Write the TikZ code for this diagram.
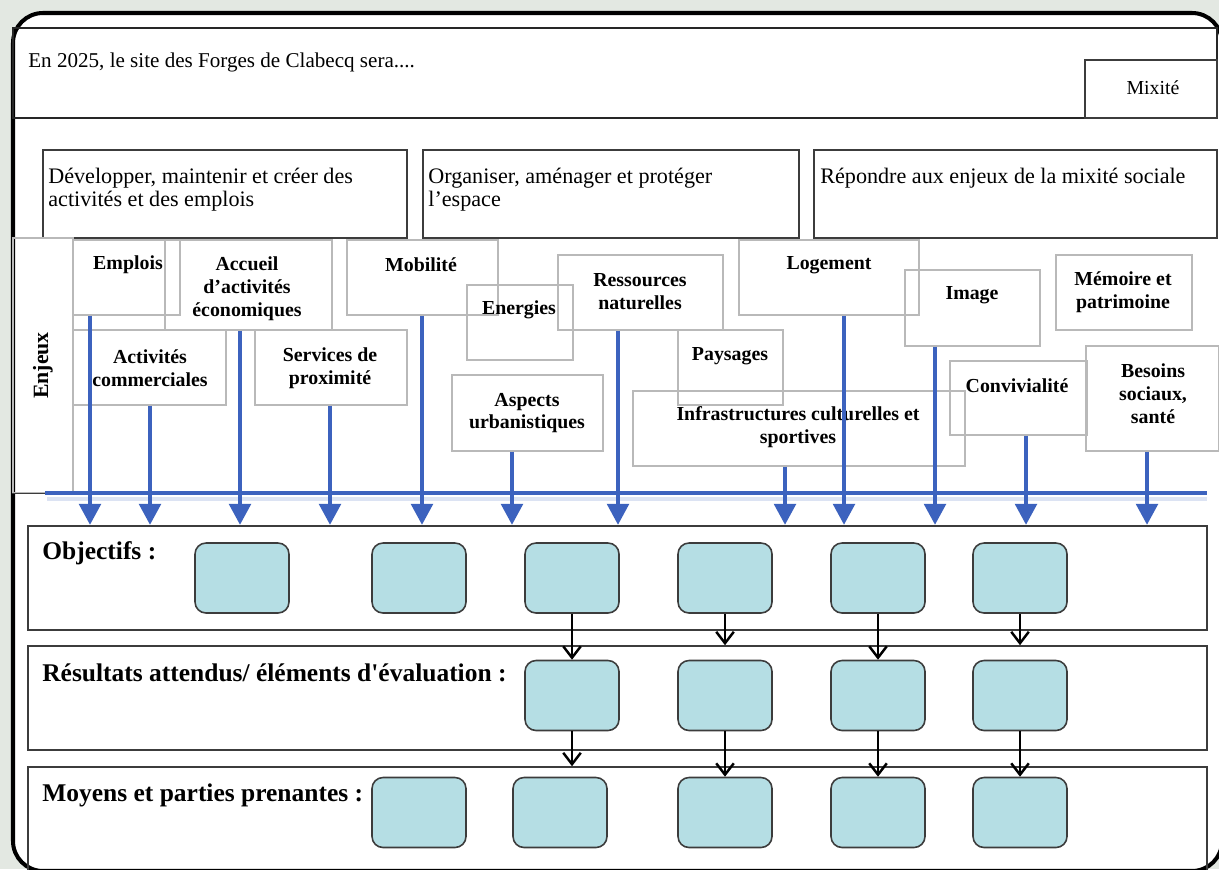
\documentclass[tikz,border=0pt]{standalone}
\usepackage{fontspec}
\setmainfont{Liberation Serif}
\usetikzlibrary{arrows.meta,fit}

\definecolor{bgcol}{RGB}{227,232,226}
\definecolor{enjblue}{RGB}{60,98,190}
\definecolor{objfill}{RGB}{181,222,228}
\definecolor{linegray}{RGB}{60,60,60}

\begin{document}
\begin{tikzpicture}[
    x=0.02cm, y=-0.02cm,
    frame/.style={draw=black, line width=2.3pt, rounded corners=0.6cm, fill=white},
    headbox/.style={draw=black!85, line width=1.1pt, inner sep=0pt},
    topbox/.style={draw=linegray, line width=0.8pt, inner sep=0pt},
    enjbox/.style={draw=gray!55, line width=0.6pt, inner sep=0pt},
    section/.style={draw=linegray, line width=0.9pt, inner sep=0pt},
    objbox/.style={draw=linegray, line width=0.9pt, fill=objfill, rounded corners=0.22cm, minimum width=1.88cm, minimum height=1.4cm},
    toptxt/.style={font=\fontsize{12.6}{12.8}\selectfont, align=left, inner sep=0pt},
    enjtxt/.style={font=\fontsize{11.3}{13}\selectfont\bfseries, align=center, inner sep=0pt},
    sectxt/.style={font=\fontsize{14.5}{16}\selectfont\bfseries, anchor=west, inner sep=0pt},
    enjarrow/.style={enjblue, line width=2.8pt, -{Triangle[width=12pt,length=12pt]}},
    flow/.style={black, line width=0.7pt, -{Straight Barb[length=6.5pt,width=10pt,line width=1.4pt]}}
]

% background and frame
\fill[bgcol] (0,0) rectangle (1219,869);
\useasboundingbox (0,0) rectangle (1219,869);
\draw[frame] (13,13) rectangle (1222,871);

% Header
\node[headbox, fit={(13,28) (1217,118)}] (header) {};
\node[toptxt, anchor=west, font=\fontsize{12}{12.8}\selectfont] (sera) at (28,62) {En 2025, le site des Forges de Clabecq sera....};
\node[topbox, fit={(1085,60) (1217,118)}] (mixite) {};
\node[toptxt, font=\fontsize{11.3}{12}\selectfont] (mixitet) at (1153,88) {Mixité};

% Axes
\node[topbox, fit={(43,150) (407,238)}] (axe1) {};
\node[toptxt, anchor=north west] (axe1t) at (48,168) {Développer, maintenir et créer des\\activités et des emplois};
\node[topbox, fit={(423,150) (799,238)}] (axe2) {};
\node[toptxt, anchor=north west] (axe2t) at (428,168) {Organiser, aménager et protéger\\l’espace};
\node[topbox, fit={(814,150) (1217,238)}] (axe3) {};
\node[toptxt, anchor=north west] (axe3t) at (820,168) {Répondre aux enjeux de la mixité sociale};

% Enjeux
\node[enjbox, fit={(13,238) (73,493)}] (enjcol) {};
\draw[linegray, line width=0.8pt] (enjcol.south west) -- (enjcol.south east);
\node[enjtxt, rotate=90, font=\fontsize{12.4}{13}\selectfont\bfseries] (enjeux) at (enjcol.center) {Enjeux};

\node[enjbox, fit={(73,240) (180,315)}] (emplois) {};
\node[enjtxt] (emploist) at (128,265) {Emplois};
\node[enjbox, fit={(165,240) (332,330)}] (accueil) {};
\begin{scope}
\clip (165,240) rectangle (332,330);
\node[enjtxt] (accueilt) at (247,289) {Accueil\\d’activités\\économiques};
\end{scope}
\node[enjbox, fit={(347,240) (498,315)}] (mobilite) {};
\node[enjtxt] (mobilitet) at (421,265) {Mobilité};
\node[enjbox, fit={(73,330) (226,405)}] (commerce) {};
\node[enjtxt] (commercet) at (150,368) {Activités\\commerciales};
\node[enjbox, fit={(255,330) (407,405)}] (services) {};
\node[enjtxt] (servicest) at (330,368) {Services de\\proximité};
\node[enjbox, fit={(467,285) (573,360)}] (energies) {};
\node[enjtxt] (energiest) at (519,310) {Energies};
\node[enjbox, fit={(558,255) (723,330)}] (ressources) {};
\node[enjtxt] (ressourcest) at (640,292) {Ressources\\naturelles};
\node[enjbox, fit={(452,375) (603,451)}] (aspects) {};
\node[enjtxt] (aspectst) at (527,413) {Aspects\\urbanistiques};
\node[enjbox, fit={(678,330) (783,405)}] (paysages) {};
\node[enjtxt] (paysagest) at (730,356) {Paysages};
\node[enjbox, fit={(633,391) (965,466)}] (infra) {};
\node[enjtxt] (infrat) at (798,427) {Infrastructures culturelles et\\sportives};
\node[enjbox, fit={(739,240) (919,315)}] (logement) {};
\node[enjtxt] (logementt) at (829,265) {Logement};
\node[enjbox, fit={(905,270) (1040,346)}] (image) {};
\node[enjtxt] (imaget) at (972,295) {Image};
\node[enjbox, fit={(1056,255) (1192,330)}] (memoire) {};
\node[enjtxt] (memoiret) at (1123,292) {Mémoire et\\patrimoine};
\node[enjbox, fit={(950,361) (1087,435)}] (convivialite) {};
\node[enjtxt] (convivialitet) at (1017,386) {Convivialité};
\node[enjbox, fit={(1086,346) (1219,451)}] (besoins) {};
\node[enjtxt] (besoinst) at (1153,394) {Besoins\\sociaux,\\santé};

% tips on the Objectifs row
\coordinate (t1) at (90,525);
\coordinate (t2) at (150,525);
\coordinate (t3) at (240,525);
\coordinate (t4) at (330,525);
\coordinate (t5) at (422,525);
\coordinate (t6) at (512,525);
\coordinate (t7) at (618,525);
\coordinate (t8) at (785,525);
\coordinate (t9) at (844,525);
\coordinate (t10) at (935,525);
\coordinate (t11) at (1026,525);
\coordinate (t12) at (1147,525);

\draw[enjblue!18, line width=2.5pt] (47,499) -- (1207,499);
\draw[enjarrow] (t1 |- emplois.south) -- (t1);
\draw[enjarrow] (t2 |- commerce.south) -- (t2);
\draw[enjarrow] (t3 |- accueil.south) -- (t3);
\draw[enjarrow] (t4 |- services.south) -- (t4);
\draw[enjarrow] (t5 |- mobilite.south) -- (t5);
\draw[enjarrow] (t6 |- aspects.south) -- (t6);
\draw[enjarrow] (t7 |- ressources.south) -- (t7);
\draw[enjarrow] (t8 |- infra.south) -- (t8);
\draw[enjarrow] (t9 |- logement.south) -- (t9);
\draw[enjarrow] (t10 |- image.south) -- (t10);
\draw[enjarrow] (t11 |- convivialite.south) -- (t11);
\draw[enjarrow] (t12 |- besoins.south) -- (t12);
\draw[enjblue, line width=2.8pt] (45,493) -- (1207,493);

% Rows
\node[section, fit={(28,526) (1207,630)}] (obj) {};
\node[sectxt] (objt) at (42,553) {Objectifs :};
\node[section, fit={(28,646) (1207,750)}] (res) {};
\node[sectxt] (rest) at (42,673) {Résultats attendus/ éléments d\textquotesingle évaluation :};
\node[section, fit={(28,767) (1207,885)}] (moy) {};
\node[sectxt] (moyt) at (42,795) {Moyens et parties prenantes :};

% Row 1
\node[objbox] (o1) at (242,578) {};
\node[objbox] (o2) at (419,578) {};
\node[objbox] (o3) at (572,578) {};
\node[objbox] (o4) at (725,578) {};
\node[objbox] (o5) at (878,578) {};
\node[objbox] (o6) at (1020,578) {};

% Row 2
\node[objbox] (r1) at (572,695.5) {};
\node[objbox] (r2) at (725,695.5) {};
\node[objbox] (r3) at (878,695.5) {};
\node[objbox] (r4) at (1020,695.5) {};

% Row 3
\node[objbox] (m1) at (419,812.5) {};
\node[objbox] (m2) at (560,812.5) {};
\node[objbox] (m3) at (725,812.5) {};
\node[objbox] (m4) at (878,812.5) {};
\node[objbox] (m5) at (1020,812.5) {};

\draw[flow] (o3) -- (r1);
\draw[flow] (o4) -- (o4 |- res.north);
\draw[flow] (o5) -- (r3);
\draw[flow] (o6) -- (o6 |- res.north);
\draw[flow] (r1) -- (r1 |- moy.north);
\draw[flow] (r2) -- (m3);
\draw[flow] (r3) -- (m4);
\draw[flow] (r4) -- (m5);

\end{tikzpicture}
\end{document}
